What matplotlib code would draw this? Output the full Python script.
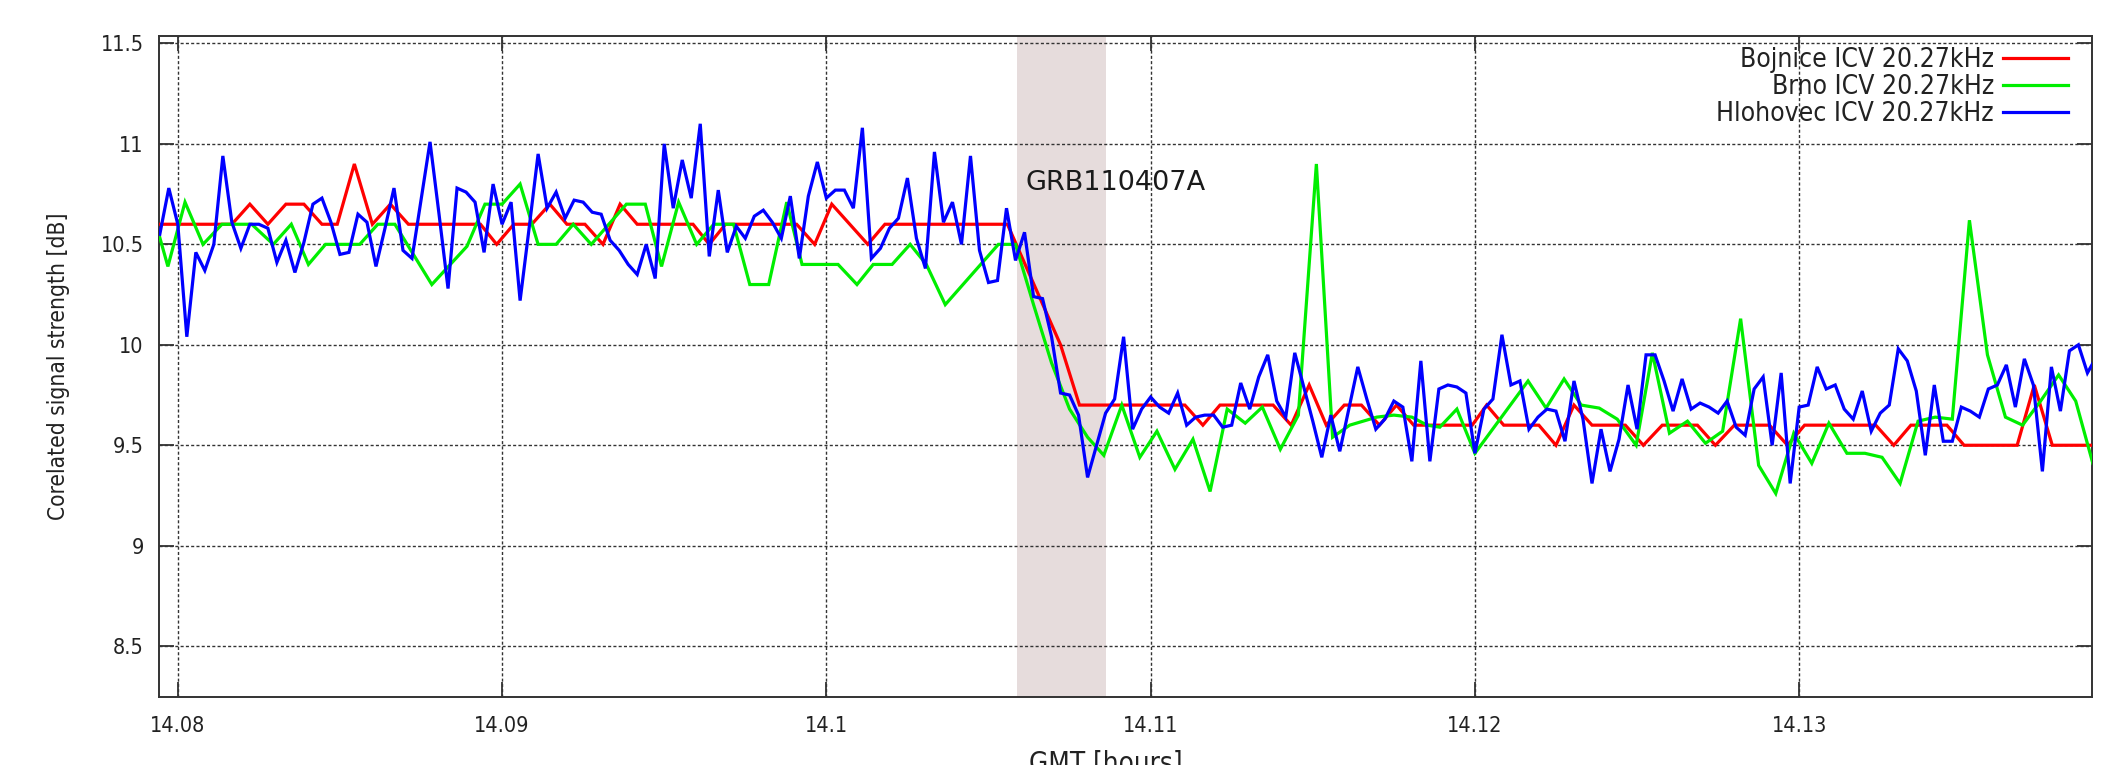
import numpy as np
import matplotlib
matplotlib.use("Agg")
import matplotlib.pyplot as plt
from matplotlib import font_manager as fm
from matplotlib.font_manager import FontProperties

# ---------------- data (time in seconds after 14.08 h GMT) ----------------
T0_HOURS = 14.08

hlohovec_t = [-2, -1, 0, 1, 2, 3, 4, 5, 6, 7, 8, 9, 10, 11, 12, 13, 14, 15, 16, 17, 18, 19,
              20, 21, 22, 23, 24, 25, 26, 27, 28, 29, 30, 31, 32, 33, 34, 35, 36, 37, 38, 39,
              40, 41, 42, 43, 44, 45, 46, 47, 48, 49, 50, 51, 52, 53, 54, 55, 56, 57, 58, 59,
              60, 61, 62, 63, 64, 65, 66, 67, 68, 69, 70, 71, 72, 73, 74, 75, 76, 77, 78, 79,
              80, 81, 82, 83, 84, 85, 86, 87, 88, 89, 90, 91, 92, 93, 94, 95, 96, 97, 98, 99,
              100, 101, 102, 103, 104, 105, 106, 107, 108, 109, 110, 111, 112, 113, 114, 115,
              116, 117, 118, 119, 120, 121, 122, 123, 124, 125, 126, 127, 128, 129, 130, 131,
              132, 133, 134, 135, 136, 137, 138, 139, 140, 141, 142, 143, 144, 145, 146, 147,
              148, 149, 150, 151, 152, 153, 154, 155, 156, 157, 158, 159, 160, 161, 162, 163,
              164, 165, 166, 167, 168, 169, 170, 171, 172, 173, 174, 175, 176, 177, 178, 179,
              180, 181, 182, 183, 184, 185, 186, 187, 188, 189, 190, 191, 192, 193, 194, 195,
              196, 197, 198, 199, 200, 201, 202, 203, 204, 205, 206, 207, 208, 209, 210, 211,
              212, 213]
hlohovec_db = [10.55, 10.78, 10.60, 10.04, 10.46, 10.37, 10.50, 10.94, 10.61, 10.48, 10.60,
               10.60, 10.58, 10.41, 10.52, 10.36, 10.51, 10.70, 10.73, 10.61, 10.45, 10.46,
               10.65, 10.61, 10.39, 10.58, 10.78, 10.47, 10.43, 10.72, 11.01, 10.65, 10.28,
               10.78, 10.76, 10.71, 10.46, 10.80, 10.60, 10.71, 10.22, 10.58, 10.95, 10.68,
               10.76, 10.63, 10.72, 10.71, 10.66, 10.65, 10.52, 10.47, 10.40, 10.35, 10.50,
               10.33, 11.00, 10.68, 10.92, 10.73, 11.10, 10.44, 10.77, 10.46, 10.59, 10.53,
               10.64, 10.67, 10.61, 10.53, 10.74, 10.43, 10.74, 10.91, 10.73, 10.77, 10.77,
               10.68, 11.08, 10.43, 10.48, 10.58, 10.63, 10.83, 10.53, 10.38, 10.96, 10.61,
               10.71, 10.50, 10.94, 10.47, 10.31, 10.32, 10.68, 10.42, 10.56, 10.24, 10.23,
               10.04, 9.76, 9.75, 9.65, 9.34, 9.50, 9.66, 9.73, 10.04, 9.58, 9.68, 9.74, 9.69,
               9.66, 9.76, 9.60, 9.64, 9.65, 9.65, 9.59, 9.60, 9.81, 9.68, 9.84, 9.95, 9.72,
               9.64, 9.96, 9.79, 9.62, 9.44, 9.65, 9.47, 9.68, 9.89, 9.73, 9.58, 9.63, 9.72,
               9.69, 9.42, 9.92, 9.42, 9.78, 9.80, 9.79, 9.76, 9.46, 9.68, 9.73, 10.05, 9.80,
               9.82, 9.58, 9.64, 9.68, 9.67, 9.52, 9.82, 9.63, 9.31, 9.58, 9.37, 9.53, 9.80,
               9.58, 9.95, 9.95, 9.82, 9.67, 9.83, 9.68, 9.71, 9.69, 9.66, 9.72, 9.59, 9.55,
               9.78, 9.84, 9.50, 9.86, 9.31, 9.69, 9.70, 9.89, 9.78, 9.80, 9.68, 9.63, 9.77,
               9.57, 9.66, 9.70, 9.98, 9.92, 9.77, 9.45, 9.80, 9.52, 9.52, 9.69, 9.67, 9.64,
               9.78, 9.80, 9.90, 9.69, 9.93, 9.80, 9.37, 9.89, 9.67, 9.97, 10.00, 9.86, 9.94]

bojnice_t = [-2.1, 6.0, 8.0, 10.0, 12.0, 14.0, 16.0, 17.7, 19.6, 21.6, 23.6, 25.6, 33.6, 35.4,
             37.3, 39.3, 41.3, 43.2, 45.2, 47.2, 49.1, 51.0, 57.2, 59.0, 60.8, 68.7, 70.7,
             72.6, 76.6, 78.5, 92.1, 98.0, 100.1, 111.8, 113.8, 115.7, 121.6, 123.6, 125.6,
             127.5, 129.5, 131.4, 133.4, 135.3, 137.2, 143.7, 145.3, 147.2, 151.1, 153.0,
             155.0, 157.0, 160.7, 162.7, 164.8, 168.7, 170.7, 172.8, 176.7, 178.7, 180.6,
             188.5, 190.5, 192.4, 196.4, 198.3, 204.2, 206.1, 208.1, 213.0]
bojnice_db = [10.6, 10.6, 10.7, 10.6, 10.7, 10.7, 10.6, 10.6, 10.9, 10.6, 10.7, 10.6, 10.6,
              10.5, 10.6, 10.6, 10.7, 10.6, 10.6, 10.5, 10.7, 10.6, 10.6, 10.5, 10.6, 10.6,
              10.5, 10.7, 10.5, 10.6, 10.6, 10.0, 9.7, 9.7, 9.6, 9.7, 9.7, 9.6, 9.8, 9.6, 9.7,
              9.7, 9.6, 9.7, 9.6, 9.6, 9.7, 9.6, 9.6, 9.5, 9.7, 9.6, 9.6, 9.5, 9.6, 9.6, 9.5,
              9.6, 9.6, 9.5, 9.6, 9.6, 9.5, 9.6, 9.6, 9.5, 9.5, 9.8, 9.5, 9.5]

brno_t = [-2.1, -1.1, 0.8, 2.8, 4.9, 8.2, 10.6, 12.6, 14.5, 16.4, 20.2, 22.2, 24.1, 28.2,
          32.1, 34.1, 36.0, 38.0, 40.0, 42.0, 43.9, 45.9, 49.8, 51.9, 53.7, 55.6, 57.6, 59.5,
          61.7, 63.5, 65.6, 67.6, 69.3, 73.3, 75.4, 77.2, 79.3, 81.3, 83.1, 85.2, 91.1, 93.0,
          95.0, 97.0, 99.0, 101.0, 102.8, 104.8, 106.8, 108.7, 110.7, 112.7, 114.6, 116.5,
          118.5, 120.4, 122.4, 124.4, 126.4, 128.2, 130.1, 133.1, 135.0, 137.0, 138.7, 140.1,
          142.0, 144.0, 149.9, 151.9, 153.9, 155.8, 157.8, 159.8, 161.9, 163.7, 165.6, 167.6,
          169.6, 171.5, 173.5, 175.5, 177.4, 179.4, 181.4, 183.3, 185.3, 187.3, 189.2, 191.2,
          193.2, 195.1, 197.0, 198.9, 200.9, 202.9, 204.8, 206.8, 208.8, 210.7, 212.6]
brno_db = [10.55, 10.39, 10.71, 10.5, 10.6, 10.6, 10.5, 10.6, 10.4, 10.5, 10.5, 10.6, 10.6,
           10.3, 10.49, 10.7, 10.7, 10.8, 10.5, 10.5, 10.6, 10.5, 10.7, 10.7, 10.39, 10.71,
           10.5, 10.6, 10.6, 10.3, 10.3, 10.71, 10.4, 10.4, 10.3, 10.4, 10.4, 10.5, 10.4,
           10.2, 10.5, 10.5, 10.2, 9.91, 9.68, 9.54, 9.45, 9.70, 9.44, 9.57, 9.38, 9.53, 9.27,
           9.68, 9.61, 9.69, 9.48, 9.65, 10.9, 9.54, 9.60, 9.64, 9.65, 9.64, 9.60, 9.59, 9.68,
           9.46, 9.82, 9.685, 9.83, 9.70, 9.685, 9.63, 9.50, 9.96, 9.56, 9.62, 9.51, 9.57,
           10.13, 9.40, 9.26, 9.56, 9.41, 9.61, 9.46, 9.46, 9.44, 9.31, 9.62, 9.64, 9.63,
           10.62, 9.95, 9.64, 9.60, 9.72, 9.85, 9.72, 9.41]

series_labels = ["Bojnice ICV 20.27kHz", "Brno ICV 20.27kHz", "Hlohovec ICV 20.27kHz"]
series_colors = ["#ff0000", "#00ee00", "#0000ff"]

grb_window_s = [93.2, 103.0]
grb_text = "GRB110407A"
grb_text_pos = [94.1, 10.77]  # seconds, dB

x_ticks = [14.08, 14.09, 14.10, 14.11, 14.12, 14.13]
x_tick_labels = ["14.08", "14.09", "14.1", "14.11", "14.12", "14.13"]
y_ticks = [8.5, 9.0, 9.5, 10.0, 10.5, 11.0, 11.5]
y_tick_labels = ["8.5", "9", "9.5", "10", "10.5", "11", "11.5"]

x_label = "GMT [hours]"
y_label = "Corelated signal strength [dB]"


def to_hours(sec):
    return T0_HOURS + np.asarray(sec, dtype=float) / 3600.0


# ---------------- fonts ----------------
has_cond = any(f.name == "DejaVu Sans" and str(f.stretch) in ("condensed", "semi-condensed")
               for f in fm.fontManager.ttflist)
names = {f.name for f in fm.fontManager.ttflist}
if has_cond:
    def fp(size):
        return FontProperties(family="DejaVu Sans", stretch="condensed", size=size)
    scale = 1.0
elif "Liberation Sans Narrow" in names:
    def fp(size):
        return FontProperties(family="Liberation Sans Narrow", size=size)
    scale = 1.06
else:
    def fp(size):
        return FontProperties(family="DejaVu Sans", size=size)
    scale = 0.9

tick_fp = fp(15.5 * scale)
legend_fp = fp(19.0 * scale)
ylabel_fp = fp(16.3 * scale)
xlabel_fp = fp(20.0 * scale)

text_color = "#222222"

# ---------------- figure ----------------
fig = plt.figure(figsize=(21.12, 7.65), dpi=100)
ax = fig.add_axes([159 / 2112, 1 - 697 / 765, (2092 - 159) / 2112, (697 - 36) / 765])

ax.axvspan(to_hours(grb_window_s[0]), to_hours(grb_window_s[1]),
           color="#e6dcdc", zorder=0, lw=0)

lw = 2.3
ax.plot(to_hours(bojnice_t), bojnice_db, color=series_colors[0], lw=lw,
        label=series_labels[0], zorder=3, solid_joinstyle="miter")
ax.plot(to_hours(brno_t), brno_db, color=series_colors[1], lw=lw,
        label=series_labels[1], zorder=4, solid_joinstyle="miter")
ax.plot(to_hours(hlohovec_t), hlohovec_db, color=series_colors[2], lw=lw,
        label=series_labels[2], zorder=5, solid_joinstyle="miter")

ax.set_xlim(14.07942, 14.13903)
ax.set_ylim(8.247, 11.537)

ax.set_xticks(x_ticks)
ax.set_xticklabels(x_tick_labels)
ax.set_yticks(y_ticks)
ax.set_yticklabels(y_tick_labels)
for lab in ax.get_xticklabels() + ax.get_yticklabels():
    lab.set_fontproperties(tick_fp)
    lab.set_color(text_color)

ax.tick_params(axis="both", which="major", direction="in", length=11, width=1.3,
               color="#333333", top=True, right=True)
ax.tick_params(axis="x", pad=14)
ax.tick_params(axis="y", pad=11)

ax.grid(True, which="major", color="#333333", lw=1.0, linestyle=(0, (2.2, 1.6)), zorder=1)
ax.set_axisbelow(True)
for sp in ax.spines.values():
    sp.set_linewidth(1.4)
    sp.set_color("#333333")

ax.text(to_hours(grb_text_pos[0]), grb_text_pos[1], grb_text, fontsize=19.5,
        family="DejaVu Sans", color="#1a1a1a", ha="left", va="baseline", zorder=6)

ax.set_xlabel(x_label, fontproperties=xlabel_fp, color=text_color)
ax.xaxis.set_label_coords(0.4898, -0.080)
ax.set_ylabel(y_label, fontproperties=ylabel_fp, color=text_color)
ax.yaxis.set_label_coords(-0.046, 0.5)

leg = ax.legend(loc="upper right", bbox_to_anchor=(0.9876, 0.983), frameon=False,
                markerfirst=False, prop=legend_fp, handlelength=2.45, handletextpad=0.36,
                labelspacing=0.03, borderpad=0, borderaxespad=0)
for t in leg.get_texts():
    t.set_color(text_color)

fig.savefig("out.png", dpi=100)
